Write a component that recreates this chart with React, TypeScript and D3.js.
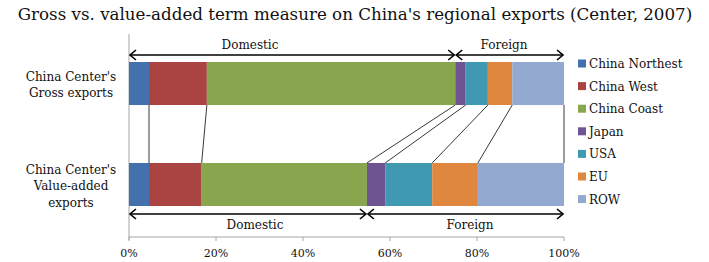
import * as d3 from "d3";

// shares of regional exports (%), by where value is created
const regions = ["China Northest", "China West", "China Coast", "Japan", "USA", "EU", "ROW"];
const grossShares = [4.6, 13.3, 57.1, 2.4, 5.1, 5.6, 11.9];
const valueAddedShares = [4.6, 12.1, 38.0, 4.2, 10.8, 10.5, 19.8];
const colors = ["#4371AE", "#A94443", "#89A64F", "#6F5492", "#3F9AB1", "#DF873F", "#93A9D0"];
const xTicks = [0, 20, 40, 60, 80, 100];
const domesticCount = 3; // first three regions are domestic

const width = 709;
const height = 262;
const serif = "DejaVu Serif";

export default function App() {
  const x = d3.scaleLinear([0, 100], [129, 564]);
  const y = d3.scaleBand(["gross", "va"], [62, 206]).paddingInner(0.574).paddingOuter(0);
  const bw = y.bandwidth();

  const stack = (vals: number[]) => {
    const ends = d3.cumsum(vals);
    return vals.map((v, i) => ({ start: ends[i] - v, end: ends[i], color: colors[i] }));
  };
  const grossSeg = stack(grossShares);
  const vaSeg = stack(valueAddedShares);

  const grossTop = y("gross")!;
  const vaTop = y("va")!;

  const grossDom = grossSeg[domesticCount - 1].end;
  const vaDom = vaSeg[domesticCount - 1].end;

  const arrow = (x1: number, x2: number, yy: number) => {
    const h = 5;
    return (
      <g stroke="#000" strokeWidth={1.6} fill="none">
        <line x1={x1 + 1} x2={x2 - 1} y1={yy} y2={yy} />
        <path d={`M${x1 + 1 + h * 1.2},${yy - h}L${x1 + 1},${yy}L${x1 + 1 + h * 1.2},${yy + h}`} />
        <path d={`M${x2 - 1 - h * 1.2},${yy - h}L${x2 - 1},${yy}L${x2 - 1 - h * 1.2},${yy + h}`} />
      </g>
    );
  };

  return (
    <svg width={width} height={height} style={{ position: "absolute", left: 0, top: 0 }}>
      <rect width={width} height={height} fill="#fff" />
      <text x={355} y={20} textAnchor="middle" fontFamily={serif} fontSize={16.7} fill="#111">
        Gross vs. value-added term measure on China's regional exports (Center, 2007)
      </text>

      {/* axes */}
      <line x1={x(0)} x2={x(0)} y1={34} y2={240} stroke="#a6a6a6" />
      <line x1={x(0)} x2={x(100)} y1={237} y2={237} stroke="#a6a6a6" />
      {xTicks.map((t) => (
        <g key={t}>
          <line x1={x(t)} x2={x(t)} y1={237} y2={241} stroke="#a6a6a6" />
          <text x={x(t)} y={257} textAnchor="middle" fontFamily={serif} fontSize={11} fill="#111">
            {t}%
          </text>
        </g>
      ))}

      {/* bars */}
      {grossSeg.map((s, i) => (
        <rect key={"g" + i} x={x(s.start)} y={grossTop} width={x(s.end) - x(s.start)} height={bw} fill={s.color} />
      ))}
      {vaSeg.map((s, i) => (
        <rect key={"v" + i} x={x(s.start)} y={vaTop} width={x(s.end) - x(s.start)} height={bw} fill={s.color} />
      ))}

      {/* connectors between matching segment boundaries */}
      {grossSeg.map((s, i) => (
        <line
          key={"c" + i}
          x1={x(s.end)}
          y1={grossTop + bw}
          x2={x(vaSeg[i].end)}
          y2={vaTop}
          stroke="#3a3a3a"
          strokeWidth={1}
        />
      ))}

      {/* domestic / foreign brackets */}
      {arrow(x(0), x(grossDom), 55)}
      {arrow(x(grossDom), x(100), 55)}
      <text x={250} y={49} textAnchor="middle" fontFamily={serif} fontSize={12} fill="#111">Domestic</text>
      <text x={504} y={49} textAnchor="middle" fontFamily={serif} fontSize={12} fill="#111">Foreign</text>

      {arrow(x(0), x(vaDom), 214)}
      {arrow(x(vaDom), x(100), 214)}
      <text x={255} y={229} textAnchor="middle" fontFamily={serif} fontSize={12} fill="#111">Domestic</text>
      <text x={470} y={229} textAnchor="middle" fontFamily={serif} fontSize={12} fill="#111">Foreign</text>

      {/* category labels */}
      <text textAnchor="middle" fontFamily={serif} fontSize={12} fill="#111">
        <tspan x={71} y={81}>China Center's</tspan>
        <tspan x={71} y={97}>Gross exports</tspan>
      </text>
      <text textAnchor="middle" fontFamily={serif} fontSize={12} fill="#111">
        <tspan x={71} y={174}>China Center's</tspan>
        <tspan x={71} y={190}>Value-added</tspan>
        <tspan x={71} y={207}>exports</tspan>
      </text>

      {/* legend */}
      {regions.map((r, i) => (
        <g key={r} transform={`translate(578,${63.5 + i * 22.6})`}>
          <rect x={0} y={-4} width={8} height={8} fill={colors[i]} />
          <text x={11} y={4.5} fontFamily={serif} fontSize={12} fill="#111">{r}</text>
        </g>
      ))}
    </svg>
  );
}
